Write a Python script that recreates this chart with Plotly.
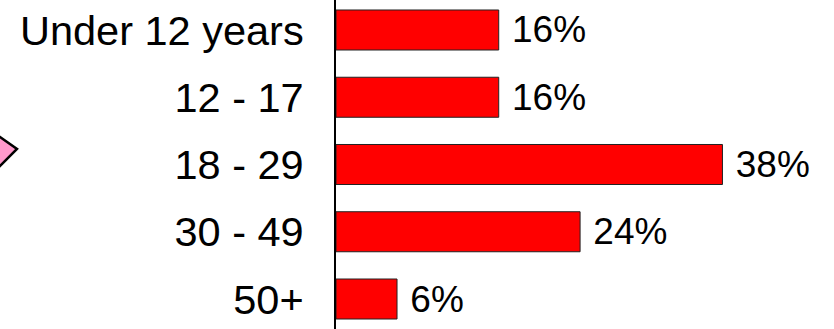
import plotly.graph_objects as go

categories = ["Under 12 years", "12 - 17", "18 - 29", "30 - 49", "50+"]
values = [16, 16, 38, 24, 6]

W, H = 834, 329
L = 336
PW = W - L

fig = go.Figure(go.Bar(
    x=values, y=categories, orientation="h",
    marker=dict(color="#FF0000", line=dict(color="#222222", width=1)),
    texttemplate="\u00a0%{x}%", textposition="outside", constraintext="none",
    textfont=dict(size=37, color="black", family="Liberation Sans, Arial"),
    cliponaxis=False, width=0.595,
))

def px2paper(px, py):
    return (px - L) / PW, 1 - py / H

pts = [(-40, 109), (17, 149), (-40, 206)]
path = "M " + " L ".join(f"{px2paper(x, y)[0]:.5f},{px2paper(x, y)[1]:.5f}" for x, y in pts) + " Z"
fig.add_shape(type="path", xref="paper", yref="paper", path=path,
              fillcolor="#FF99CC", line=dict(color="black", width=2.5))

fig.update_layout(
    width=W, height=H,
    margin=dict(l=L, r=0, t=0, b=0),
    plot_bgcolor="white", paper_bgcolor="white",
    showlegend=False,
    font=dict(family="Liberation Sans, Arial", color="black"),
    xaxis=dict(range=[0, PW / 10.17], visible=False, showgrid=False, zeroline=False),
    yaxis=dict(range=[4.446, -0.446], showline=True, linecolor="black", linewidth=2,
               showgrid=False, ticks="", tickfont=dict(size=41.5, color="black"),
               ticklabelstandoff=22),
)

fig.write_html("out.html")
